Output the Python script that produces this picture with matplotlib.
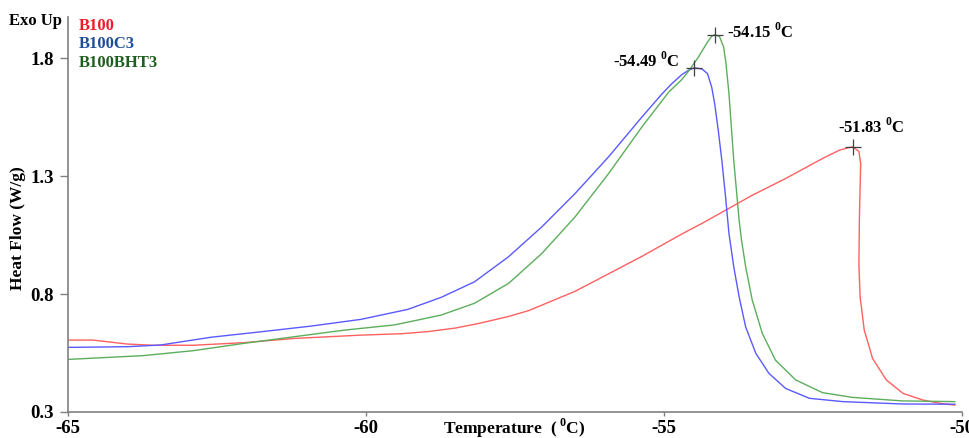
import numpy as np
import matplotlib
matplotlib.use("Agg")
import matplotlib.pyplot as plt

plt.rcParams['font.family'] = ['Liberation Serif', 'DejaVu Serif']
plt.rcParams['font.weight'] = 'bold'
plt.rcParams['mathtext.fontset'] = 'custom'
plt.rcParams['mathtext.rm'] = 'Liberation Serif:bold'
plt.rcParams['mathtext.bf'] = 'Liberation Serif:bold'

# DSC cooling curves
t_b100 = [-65.0, -64.58, -64.0, -63.57, -62.9, -62.05, -61.2, -60.08, -59.4, -58.96,
          -58.5, -58.1, -57.61, -57.27, -56.49, -55.37, -54.70, -54.36, -53.52, -52.96,
          -52.34, -52.06, -51.89, -51.83, -51.73, -51.70, -51.72, -51.73, -51.71, -51.64,
          -51.5, -51.27, -50.99, -50.66, -50.38, -50.12]
h_b100 = [0.605, 0.605, 0.588, 0.583, 0.583, 0.594, 0.612, 0.626, 0.632, 0.641,
          0.656, 0.676, 0.705, 0.730, 0.812, 0.960, 1.055, 1.10, 1.219, 1.290,
          1.375, 1.41, 1.422, 1.424, 1.405, 1.354, 1.142, 0.93, 0.789, 0.647,
          0.527, 0.436, 0.379, 0.351, 0.337, 0.329]

t_c3 = [-65.0, -64.0, -63.45, -62.6, -61.77, -60.93, -60.08, -59.3, -58.74, -58.18,
        -57.61, -57.05, -56.49, -55.93, -55.37, -55.03, -54.87, -54.70, -54.58, -54.49,
        -54.36, -54.27, -54.20, -54.15, -54.09, -54.03, -53.97, -53.91, -53.83, -53.74,
        -53.63, -53.46, -53.24, -52.96, -52.56, -52.0, -51.0, -50.12]
h_c3 = [0.574, 0.577, 0.584, 0.617, 0.64, 0.664, 0.693, 0.735, 0.786, 0.852,
        0.958, 1.085, 1.227, 1.382, 1.551, 1.65, 1.692, 1.731, 1.750, 1.76,
        1.754, 1.735, 1.678, 1.608, 1.495, 1.368, 1.22, 1.057, 0.916, 0.789,
        0.661, 0.549, 0.464, 0.40, 0.358, 0.344, 0.334, 0.333]

t_bht3 = [-65.0, -63.74, -62.9, -62.05, -61.21, -60.37, -59.53, -59.13, -58.74, -58.18,
          -57.61, -57.05, -56.49, -55.93, -55.37, -54.92, -54.70, -54.58, -54.42, -54.27,
          -54.20, -54.15, -54.07, -54.0, -53.96, -53.91, -53.87, -53.83, -53.79, -53.74,
          -53.70, -53.63, -53.52, -53.35, -53.13, -52.79, -52.34, -51.84, -51.0, -50.12]
h_bht3 = [0.523, 0.539, 0.56, 0.591, 0.619, 0.647, 0.669, 0.69, 0.711, 0.761,
          0.845, 0.972, 1.128, 1.311, 1.509, 1.657, 1.71, 1.748, 1.806, 1.869,
          1.893, 1.90, 1.893, 1.848, 1.778, 1.65, 1.509, 1.368, 1.255, 1.114,
          1.03, 0.916, 0.775, 0.633, 0.52, 0.436, 0.382, 0.362, 0.347, 0.344]

names = ['B100', 'B100C3', 'B100BHT3']
peak_labels = ['-51.83', '-54.49', '-54.15']
line_colors = ['#ff6060', '#5a5aff', '#5cae5c']
name_colors = ['#ee1c25', '#1f4e99', '#1e5e1e']
label_offsets = [(13, 14.5), (-11, 5), (9, 2)]   # offset points from the peak
label_align = ['center', 'right', 'left']

xticks = [-65, -60, -55, -50]
yticks = [0.3, 0.8, 1.3, 1.8]

fig = plt.figure(figsize=(9.69, 4.38), dpi=100)
ax = fig.add_axes([68 / 969, 1 - 412 / 438, (962 - 68) / 969, (412 - 17) / 438])

series = [(t_b100, h_b100), (t_c3, h_c3), (t_bht3, h_bht3)]
for (t, h), c in zip(series, line_colors):
    ax.plot(t, h, color=c, lw=1.0)

for (t, h), lab, off, ha in zip(series, peak_labels, label_offsets, label_align):
    i = int(np.argmax(h))
    ax.plot(t[i], h[i], marker='+', color='#404040', ms=12, mew=0.9)
    ax.annotate(lab + r' $^{0}$C', (t[i], h[i]), xytext=off, textcoords='offset points',
                ha=ha, va='center', fontsize=12, fontweight='bold')

ax.set_xlim(-65, -50)
ax.set_ylim(0.3, 1.975)
ax.set_xticks(xticks)
ax.set_xticklabels([str(v) for v in xticks])
ax.set_yticks(yticks)
ax.set_yticklabels([f'{v:.1f}' for v in yticks])
ax.tick_params(axis='y', length=6, width=1, color='#808080', pad=4, labelsize=13.5)
ax.tick_params(axis='x', length=3, width=1, color='#808080', pad=3, labelsize=13.5)

for s in ['top', 'right']:
    ax.spines[s].set_visible(False)
for s in ['left', 'bottom']:
    ax.spines[s].set_color('#808080')
    ax.spines[s].set_linewidth(1.2)

for k, (nm, c) in enumerate(zip(names, name_colors)):
    fig.text(79 / 969, 1 - (26 + 18.5 * k) / 438, nm, color=c, fontsize=12,
             fontweight='bold', ha='left', va='center')

fig.text(62 / 969, 1 - 21 / 438, 'Exo Up', fontsize=12, fontweight='bold',
         ha='right', va='center')
fig.text(18 / 969, 1 - 228 / 438, 'Heat Flow (W/g)', fontsize=12.5, fontweight='bold',
         rotation=90, ha='center', va='center')
fig.text(514 / 969, 1 - 428 / 438, r'Temperature  ($\,^{0}$C)', fontsize=12.5,
         fontweight='bold', ha='center', va='center')

fig.savefig('out.png', dpi=100)
